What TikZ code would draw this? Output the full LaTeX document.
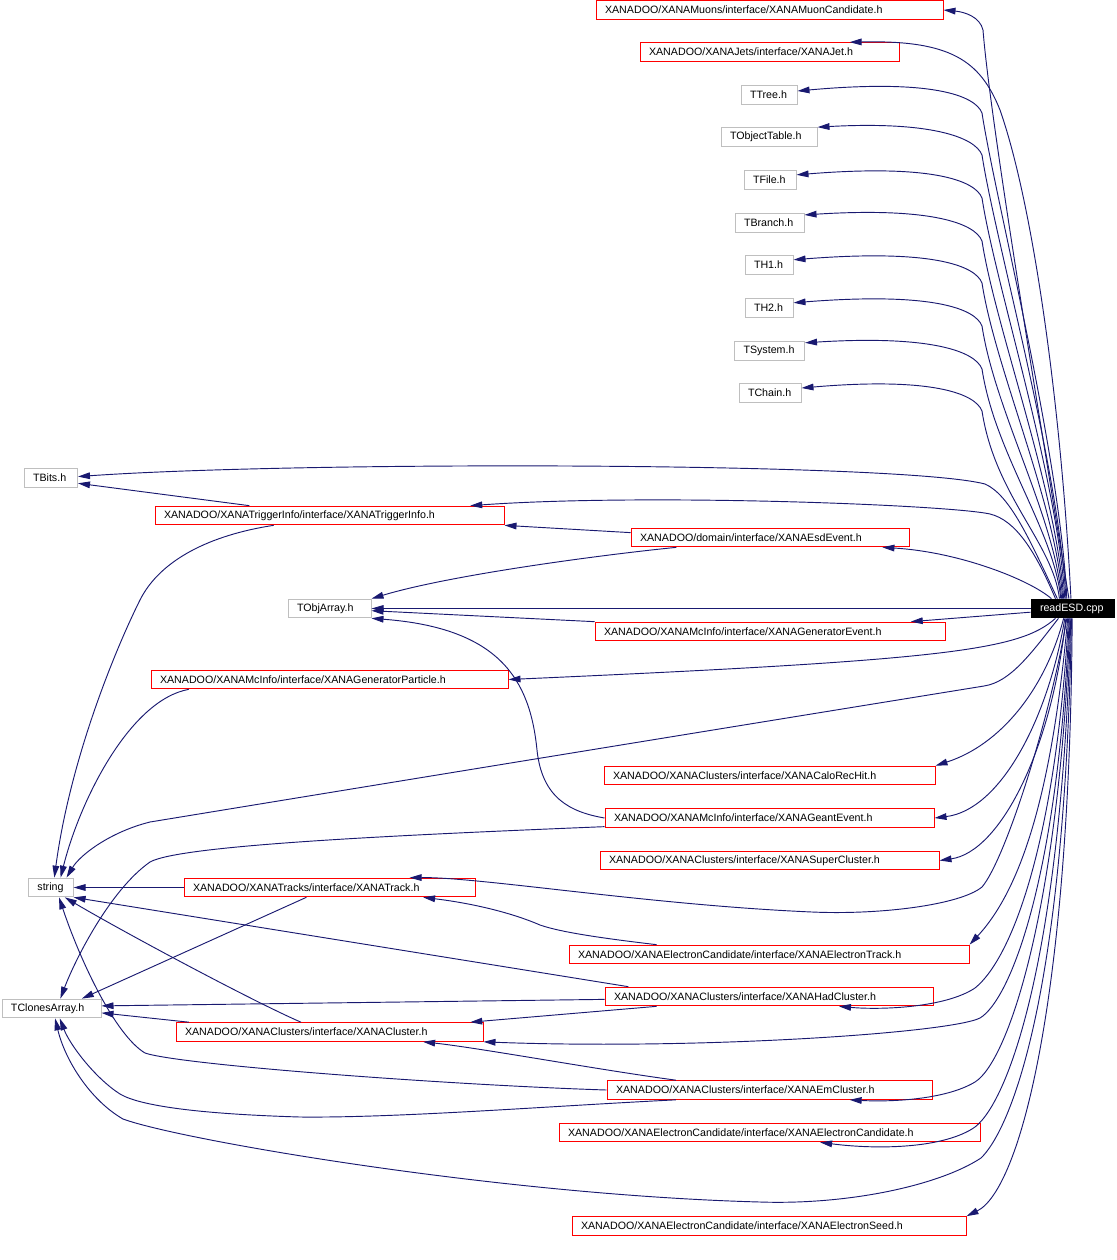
\documentclass[tikz,border=0pt]{standalone}
\usepackage{fontspec}
\setmainfont{Liberation Sans}
\usetikzlibrary{arrows.meta}
\definecolor{edgeblue}{HTML}{191970}
\definecolor{boxred}{HTML}{FF0000}
\definecolor{boxgrey}{HTML}{BFBFBF}
\tikzset
{
    filenode/.style = {rectangle, draw=boxred, line width=0.75pt, align=left, inner xsep=6.75pt, inner ysep=0pt, minimum height=14pt, font=\fontsize{8}{9}\selectfont},
    sysnode/.style  = {filenode, draw=boxgrey},
    srcnode/.style  = {filenode, draw=black, fill=black, text=white},
    tw/.style       = {text width=#1pt},
    incedge/.style  = {draw=edgeblue, line width=0.7pt, -{Triangle[length=9pt, width=5pt]}}
}

\begin{document}
\begin{tikzpicture}[x=0.75pt, y=-0.75pt]
	\useasboundingbox (0,0) rectangle (1117,1260);

	\node[filenode, tw=246.75] (muon) at (769.5,10) {XANADOO/XANAMuons/interface/XANAMuonCandidate.h};
	\node[filenode, tw=180.75] (jet) at (769.5,52) {XANADOO/XANAJets/interface/XANAJet.h};
	\node[sysnode, tw=28.5] (ttree) at (769,95) {TTree.h};
	\node[sysnode, tw=58.5] (tobjtab) at (769,137) {TObjectTable.h};
	\node[sysnode, tw=25.5] (tfile) at (770,180) {TFile.h};
	\node[sysnode, tw=38.25] (tbranch) at (769.5,223) {TBranch.h};
	\node[sysnode, tw=22.5] (th1) at (769,265) {TH1.h};
	\node[sysnode, tw=22.5] (th2) at (769,308) {TH2.h};
	\node[sysnode, tw=39] (tsystem) at (769.5,351) {TSystem.h};
	\node[sysnode, tw=33] (tchain) at (770,393) {TChain.h};
	\node[sysnode, tw=26.6] (tbits) at (50.75,478) {TBits.h};
	\node[filenode, tw=248.25] (trigger) at (329.5,515.5) {XANADOO/XANATriggerInfo/interface/XANATriggerInfo.h};
	\node[filenode, tw=195] (esd) at (770,537.5) {XANADOO/domain/interface/XANAEsdEvent.h};
	\node[sysnode, tw=48.75] (tobjarr) at (329.5,608.5) {TObjArray.h};
	\node[srcnode, tw=48.75] (readesd) at (1072.5,608.5) {readESD.cpp};
	\node[filenode, tw=249] (genevt) at (770,631.5) {XANADOO/XANAMcInfo/interface/XANAGeneratorEvent.h};
	\node[filenode, tw=254.25] (genpart) at (329.5,679.5) {XANADOO/XANAMcInfo/interface/XANAGeneratorParticle.h};
	\node[filenode, tw=234.75] (calo) at (769.5,775.5) {XANADOO/XANAClusters/interface/XANACaloRecHit.h};
	\node[filenode, tw=233.25] (geant) at (769.5,818) {XANADOO/XANAMcInfo/interface/XANAGeantEvent.h};
	\node[filenode, tw=240.75] (super) at (769.5,860.5) {XANADOO/XANAClusters/interface/XANASuperCluster.h};
	\node[sysnode, tw=20] (string) at (50.75,887.5) {string};
	\node[filenode, tw=204.75] (track) at (329.5,887.5) {XANADOO/XANATracks/interface/XANATrack.h};
	\node[filenode, tw=286.5] (etrack) at (769,954.5) {XANADOO/XANAElectronCandidate/interface/XANAElectronTrack.h};
	\node[sysnode, tw=60.75] (tclones) at (51.5,1008.5) {TClonesArray.h};
	\node[filenode, tw=232.5] (had) at (769,996.5) {XANADOO/XANAClusters/interface/XANAHadCluster.h};
	\node[filenode, tw=216.75] (cluster) at (329.5,1032) {XANADOO/XANAClusters/interface/XANACluster.h};
	\node[filenode, tw=230.25] (em) at (769.5,1090) {XANADOO/XANAClusters/interface/XANAEmCluster.h};
	\node[filenode, tw=302.25] (ecand) at (769.5,1132.5) {XANADOO/XANAElectronCandidate/interface/XANAElectronCandidate.h};
	\node[filenode, tw=282] (eseed) at (769,1226) {XANADOO/XANAElectronCandidate/interface/XANAElectronSeed.h};

	\draw[incedge] (readesd.110) .. controls (1040,420) and (990,120) .. (983,30) .. controls (980,17) and (965,12) .. (muon.east);
	\draw[incedge] (readesd.99) .. controls (1062,420) and (1035,210) .. (1000,110) .. controls (980,60) and (950,40) .. (jet.7);
	\draw[incedge] (readesd.120) .. controls (1060,453) and (995,198) .. (982,113) .. controls (975,95) and (930,79) .. (ttree.8);
	\draw[incedge] (readesd.124) .. controls (1059,466) and (995,240) .. (982,155) .. controls (975,137) and (930,121) .. (tobjtab.north east);
	\draw[incedge] (readesd.128) .. controls (1058,479) and (995,283) .. (982,198) .. controls (975,180) and (930,164) .. (tfile.11);
	\draw[incedge] (readesd.132) .. controls (1057,492) and (995,326) .. (982,241) .. controls (975,223) and (930,207) .. (tbranch.13);
	\draw[incedge] (readesd.135) .. controls (1056,504) and (995,368) .. (982,283) .. controls (975,265) and (930,249) .. (th1.12);
	\draw[incedge] (readesd.138) .. controls (1055,517) and (995,411) .. (982,326) .. controls (975,308) and (930,292) .. (th2.12);
	\draw[incedge] (readesd.140) .. controls (1054,530) and (995,454) .. (982,369) .. controls (975,351) and (930,335) .. (tsystem.13);
	\draw[incedge] (readesd.143) .. controls (1053,543) and (995,496) .. (982,411) .. controls (975,393) and (930,377) .. (tchain.9);
	\draw[incedge] (readesd.147) .. controls (1030,540) and (1010,495) .. (985,484) .. controls (900,462) and (300,461) .. (tbits.3);
	\draw[incedge] (readesd.150) .. controls (1035,550) and (1015,520) .. (990,514) .. controls (950,505) and (650,493) .. (trigger.4);
	\draw[incedge] (readesd.155) .. controls (1030,580) and (960,552) .. (esd.355);
	\draw[incedge] (readesd.west) -- (tobjarr.east);
	\draw[incedge] (readesd.185) -- (genevt.4);
	\draw[incedge] (readesd.210) .. controls (1020,650) and (950,660) .. (genpart.east);
	\draw[incedge] (readesd.215) .. controls (1030,655) and (1010,682) .. (984,686) .. controls (700,732) and (400,781) .. (150,822) .. controls (110,832) and (80,855) .. (string.32);
	\draw[incedge] (readesd.228) .. controls (1045,690) and (1000,745) .. (calo.north east);
	\draw[incedge] (readesd.232) .. controls (1048,720) and (1000,810) .. (geant.east);
	\draw[incedge] (readesd.236) .. controls (1052,750) and (1000,852) .. (super.east);
	\draw[incedge] (readesd.240) .. controls (1050,720) and (1005,860) .. (982,887) .. controls (960,905) and (880,915) .. (812,912) .. controls (650,905) and (480,877) .. (track.7);
	\draw[incedge] (readesd.244) .. controls (1055,760) and (1030,880) .. (etrack.north east);
	\draw[incedge] (readesd.248) .. controls (1055,850) and (1010,960) .. (975,988) .. controls (945,1008) and (880,1010) .. (had.352);
	\draw[incedge] (readesd.252) .. controls (1058,880) and (1010,1000) .. (980,1018) .. controls (950,1033) and (700,1050) .. (cluster.south east);
	\draw[incedge] (readesd.256) .. controls (1060,900) and (1010,1060) .. (975,1082) .. controls (945,1100) and (890,1102) .. (em.353);
	\draw[incedge] (readesd.260) .. controls (1062,950) and (1010,1100) .. (975,1127) .. controls (945,1148) and (880,1150) .. (ecand.349);
	\draw[incedge] (readesd.264) .. controls (1065,1000) and (1010,1130) .. (981,1158) .. controls (940,1185) and (850,1205) .. (760,1202) .. controls (500,1195) and (180,1140) .. (123,1119) .. controls (90,1100) and (65,1060) .. (tclones.290);
	\draw[incedge] (readesd.268) .. controls (1070,1000) and (1020,1190) .. (eseed.north east);

	\draw[incedge] (trigger.173) -- (tbits.349);
	\draw[incedge] (trigger.190) .. controls (210,535) and (160,560) .. (140,600) .. controls (115,650) and (70,760) .. (string.70);
	\draw[incedge] (esd.178) -- (trigger.south east);
	\draw[incedge] (esd.186) .. controls (600,555) and (450,575) .. (tobjarr.north east);
	\draw[incedge] (genevt.north west) -- (tobjarr.357);
	\draw[incedge] (genpart.184) .. controls (130,700) and (80,800) .. (string.45);
	\draw[incedge] (geant.west) .. controls (570,812) and (542,798) .. (537,750) .. controls (530,680) and (500,628) .. (tobjarr.south east);
	\draw[incedge] (geant.183) .. controls (400,835) and (180,845) .. (150,862) .. controls (110,890) and (75,960) .. (tclones.48);
	\draw[incedge] (track.west) -- (string.east);
	\draw[incedge] (track.203) -- (tclones.18);
	\draw[incedge] (etrack.175) .. controls (600,938) and (560,932) .. (540,925) .. controls (510,912) and (470,903) .. (track.354);
	\draw[incedge] (had.176) -- (string.south east);
	\draw[incedge] (had.181) -- (tclones.3);
	\draw[incedge] (had.185) -- (cluster.4);
	\draw[incedge] (cluster.161) .. controls (250,1000) and (120,930) .. (string.325);
	\draw[incedge] (cluster.176) -- (tclones.355);
	\draw[incedge] (em.174) .. controls (600,1070) and (480,1048) .. (cluster.354);
	\draw[incedge] (em.west) .. controls (450,1085) and (180,1065) .. (145,1053) .. controls (115,1035) and (80,960) .. (string.310);
	\draw[incedge] (em.186) .. controls (550,1106) and (400,1118) .. (300,1117) .. controls (200,1114) and (140,1106) .. (120,1094) .. controls (95,1078) and (70,1045) .. (tclones.310);
\end{tikzpicture}
\end{document}
